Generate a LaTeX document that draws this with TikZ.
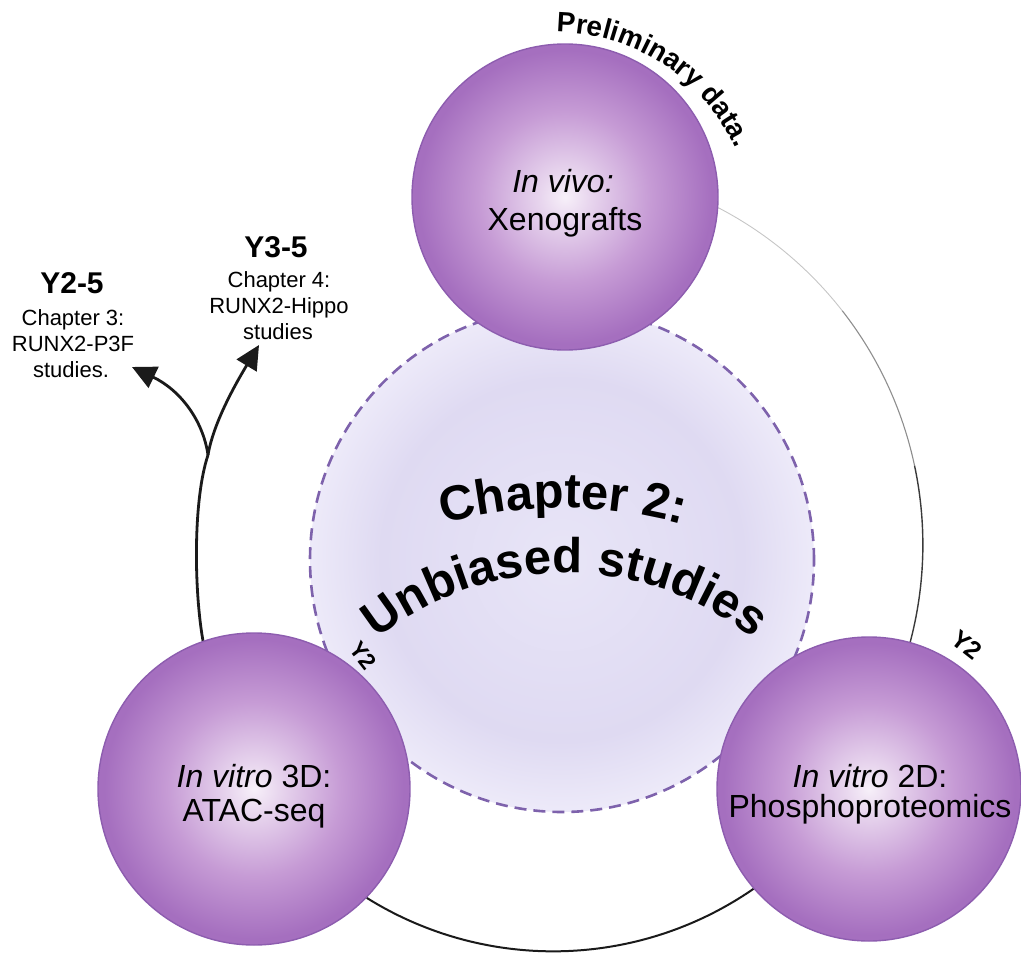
\documentclass[tikz,border=0pt]{standalone}
\usepackage{fontspec}
\setmainfont{Liberation Sans}
\usetikzlibrary{arrows.meta,decorations.text}
\definecolor{sphA}{HTML}{F7F0F9}
\definecolor{sphB}{HTML}{E8D6EE}
\definecolor{sphC}{HTML}{C69BD5}
\definecolor{sphD}{HTML}{A56FBF}
\definecolor{sphE}{HTML}{8D5DAF}
\definecolor{lavA}{HTML}{E8E5F7}
\definecolor{lavB}{HTML}{DFDAF2}
\definecolor{lavC}{HTML}{EDEAF9}
\definecolor{dashcol}{HTML}{7E62AC}
\definecolor{inkc}{HTML}{1A1A1A}
\definecolor{ringA}{HTML}{C6C6C6}
\definecolor{ringB}{HTML}{8E8E8E}
\definecolor{ringC}{HTML}{3A3A3A}
\pgfdeclareradialshading{sphereshade}{\pgfpoint{0bp}{0bp}}{color(0bp)=(sphA); color(4bp)=(sphB); color(14bp)=(sphC); color(24bp)=(sphD); color(25bp)=(sphD); color(50bp)=(sphD)}
\pgfdeclareradialshading{coreshade}{\pgfpoint{0bp}{0bp}}{color(0bp)=(lavA); color(18bp)=(lavB); color(25bp)=(lavC); color(50bp)=(lavC)}
\pgfdeclarelayer{bg}
\pgfsetlayers{bg,main}
\newcommand\fsz[1]{\fontsize{#1}{#1}\selectfont}
\begin{document}
\begin{tikzpicture}[x=1pt,y=-1pt,
  sphere/.style={circle, inner sep=0pt, minimum size=#1, draw=sphE, line width=1.4pt, shading=sphereshade},
  core/.style={circle, inner sep=0pt, minimum size=#1, draw=dashcol, line width=2.6pt, dash pattern=on 12pt off 7pt, shading=coreshade},
  lab/.style={font=\fsz{32}, anchor=base, inner sep=0pt},
  yr/.style={font=\fsz{30}\bfseries, anchor=base, inner sep=0pt},
  cl/.style={font=\fsz{22}, anchor=base, inner sep=0pt},
  yl/.style={font=\fsz{#1}\bfseries, inner sep=0pt},
  arr/.style={line width=2.8pt, draw=inkc, -{Triangle[length=24pt,width=23pt]}},
  trunk/.style={line width=2.8pt, draw=inkc},
  ringbot/.style={line width=2pt, draw=inkc},
]
\useasboundingbox (0,0) rectangle (1021,953);

% central dashed disc
\node[core=504pt] (core) at (562,560) {};

% spheres
\node[sphere=306pt] (vivo) at (565,197) {};
\node[sphere=312pt] (atac) at (254,789) {};
\node[sphere=304pt] (phos) at (869,789) {};

% sphere texts
\node[lab] (vivo1) at (563,192) {\textit{In vivo:}};
\node[lab] (vivo2) at (565,230) {Xenografts};
\node[lab] (atac1) at (254,787) {\textit{In vitro} 3D:};
\node[lab] (atac2) at (254,821) {ATAC-seq};
\node[lab] (phos1) at (870,787) {\textit{In vitro} 2D:};
\node[lab] (phos2) at (870,817) {Phosphoproteomics};

% connectors (behind)
\coordinate (jn) at (208,455);
\coordinate (tipL) at (132,367);
\coordinate (tipR) at (259,345);
\begin{pgfonlayer}{bg}
  \draw[ringA, line width=0.9pt] (vivo.-4) arc[start angle=297.5, end angle=322, radius=380] coordinate (ra);
  \draw[ringB, line width=1.1pt] (ra) arc[start angle=322, end angle=348, radius=380] coordinate (rb);
  \draw[ringC, line width=1.4pt] (rb) arc[start angle=348, end angle=376, radius=380];
  \draw[ringbot] (atac.-44) arc[start angle=122, end angle=54, radius=352];
  \draw[trunk] (atac.109) .. controls (194,590) and (193,500) .. (jn);
  \draw[arr] (jn) .. controls (203,420) and (180,390) .. (tipL);
  \draw[arr] (jn) .. controls (213,425) and (233,388) .. (tipR);
\end{pgfonlayer}

% arrow labels
\node[yr] (y25) at (72,293) {Y2-5};
\node[cl] (c3a) at (73,325) {Chapter 3:};
\node[cl] (c3b) at (73,351) {RUNX2-P3F};
\node[cl] (c3c) at (71,377) {studies.};
\node[yr] (y35) at (276,257) {Y3-5};
\node[cl] (c4a) at (279,287) {Chapter 4:};
\node[cl] (c4b) at (279,313) {RUNX2-Hippo};
\node[cl] (c4c) at (278,339) {studies};

% year labels
\node[yl=23, rotate=-52] (y2a) at (363,656) {Y2};
\node[yl=25, rotate=-38] (y2b) at (967,645) {Y2};

% curved texts
\path[decorate, decoration={text along path, text={|\fsz{28}\bfseries|Preliminary data.}, text align=center}]
  (485.6,44.1) arc[start angle=250, end angle=356, radius=200];
\path[decorate, decoration={text along path, text={|\fsz{49}\bfseries|Chapter 2:}, text align=center}]
  (338,568.3) arc[start angle=240, end angle=300, radius=450];
\path[decorate, decoration={text along path, text={|\fsz{49}\bfseries|Unbiased studies}, text align=center}]
  (319.3,700.9) arc[start angle=215, end angle=325, radius=300];
\end{tikzpicture}
\end{document}
